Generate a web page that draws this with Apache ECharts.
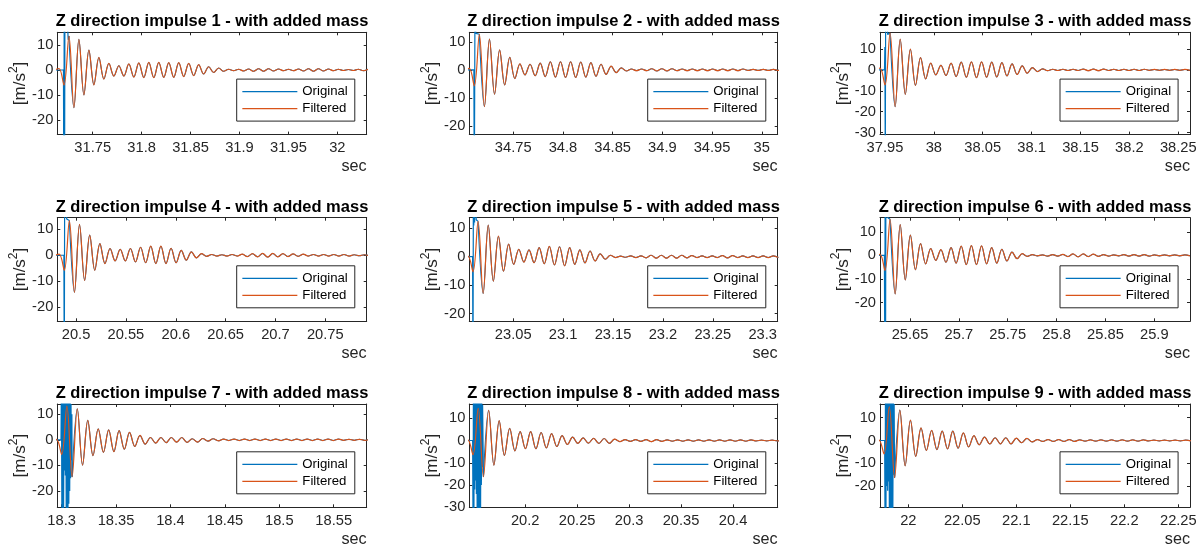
<!DOCTYPE html>
<html>
<head>
<meta charset="utf-8">
<script src="https://cdn.jsdelivr.net/npm/echarts@6/dist/echarts.min.js"></script>
<style>
  html, body { margin: 0; padding: 0; background: #fff; }
  #chart { width: 1203px; height: 548px; }
</style>
</head>
<body>
<div id="chart"></div>
<script>
// ---------------- data ----------------
const panelTitles = [
  'Z direction impulse 1 - with added mass',
  'Z direction impulse 2 - with added mass',
  'Z direction impulse 3 - with added mass',
  'Z direction impulse 4 - with added mass',
  'Z direction impulse 5 - with added mass',
  'Z direction impulse 6 - with added mass',
  'Z direction impulse 7 - with added mass',
  'Z direction impulse 8 - with added mass',
  'Z direction impulse 9 - with added mass'
];

// time of the first ringing trough of each impulse [s]
const ringStart = [31.7206, 34.7108, 37.9500, 20.4882, 23.0097, 25.6244, 18.3000, 20.1497, 21.9775];
// spacing between successive extrema of the filtered ringing [s]
const halfPeriod = [0.0051, 0.0051, 0.0052, 0.0051, 0.0051, 0.0052, 0.0048, 0.00505, 0.0049];

// filtered acceleration extrema [m/s^2]; first value sits two steps before ringStart
const filtered1 = [0, 0.6, -6, 13.5, -15, 12.2, -9.9, 7.9, -5.9, 5.0, -3.6, 2.6, -2.4, 1.7, -2.4, 2.4, -2.8, 2.8, -3.0, 3.0, -3.0, 3.0, -2.9, 2.9, -2.9, 2.9, -2.6, 2.6, -2.2, 2.1, -1.6, 1.3, -1.0, 0.8, -0.5, 0.3, -0.3, 0.3, -0.4, 0.4, -0.5, 0.5, -0.5, 0.5, -0.4, 0.4, -0.3, 0.3, -0.3, 0.4, -0.4, 0.5, -0.5, 0.5, -0.4, 0.4, -0.3, 0.3, -0.2, 0.2, -0.2, 0.3, -0.3, 0.3];
const filtered2 = [0, 0.5, -5.7, 12.7, -13.1, 11.0, -8.7, 7.1, -5.4, 4.5, -3.1, 2.1, -1.8, 2.0, -2.1, 2.4, -2.4, 2.9, -2.6, 2.9, -2.7, 2.9, -2.7, 2.8, -2.6, 2.6, -2.3, 2.0, -1.6, 1.3, -1.0, 0.7, -0.4, 0.3, -0.3, 0.3, -0.3, 0.4, -0.4, 0.4, -0.4, 0.4, -0.3, 0.3, -0.3, 0.3, -0.3, 0.3, -0.3, 0.3, -0.3, 0.3, -0.3, 0.3, -0.3, 0.3, -0.2, 0.2, -0.2, 0.2, -0.2, 0.2, -0.2, 0.2];
const filtered3 = [0, 0.8, -7.2, 17.6, -17.6, 14.7, -11.7, 9.9, -7.4, 5.9, -4.3, 3.2, -2.4, 2.2, -2.7, 3.2, -3.2, 3.7, -3.5, 3.8, -3.7, 3.8, -3.5, 3.7, -3.4, 3.5, -2.9, 2.9, -2.2, 1.9, -1.6, 1.1, -0.8, 0.5, -0.4, 0.3, -0.3, 0.3, -0.3, 0.3, -0.3, 0.4, -0.4, 0.4, -0.4, 0.4, -0.3, 0.3, -0.3, 0.3, -0.3, 0.3, -0.3, 0.3, -0.2, 0.2, -0.2, 0.2, -0.2, 0.2, -0.2, 0.2, -0.2];
const filtered4 = [0, 0.4, -5.8, 13.4, -14.3, 11.9, -9.7, 7.8, -5.8, 4.5, -3.2, 2.6, -2.2, 2.3, -2.2, 2.6, -2.6, 3.1, -2.9, 3.5, -3.2, 3.5, -3.2, 2.7, -2.9, 1.9, -1.9, 1.3, -1.0, 0.6, -0.4, 0.3, -0.3, 0.2, -0.3, 0.3, -0.3, 0.4, -0.5, 0.6, -0.6, 0.7, -0.7, 0.7, -0.6, 0.6, -0.5, 0.5, -0.4, 0.4, -0.3, 0.3, -0.3, 0.3, -0.3, 0.3, -0.3, 0.3, -0.3, 0.2, -0.2, 0.2, -0.2];
const filtered5 = [0, 0.2, -5.3, 12.4, -12.9, 11.1, -8.6, 7.2, -5.1, 4.4, -2.7, 2.6, -1.9, 2.4, -2.1, 3.2, -2.5, 3.6, -2.9, 3.5, -3.2, 3.2, -2.7, 2.4, -2.2, 2.0, -1.5, 1.0, -0.9, 0.5, -0.3, 0.2, -0.2, 0.3, -0.3, 0.3, -0.4, 0.5, -0.5, 0.5, -0.5, 0.5, -0.5, 0.5, -0.4, 0.4, -0.3, 0.3, -0.3, 0.3, -0.3, 0.4, -0.4, 0.4, -0.3, 0.3, -0.3, 0.3, -0.3, 0.3, -0.3, 0.3, -0.3];
const filtered6 = [0, 0.4, -6.4, 15.3, -16.4, 13.1, -10.4, 8.6, -6.1, 5.0, -3.6, 2.9, -2.1, 2.4, -2.9, 3.3, -3.3, 3.9, -3.9, 4.1, -3.9, 4.0, -3.6, 3.3, -3.3, 2.6, -2.4, 1.4, -1.4, 0.7, -0.4, 0.3, -0.2, 0.2, -0.3, 0.3, -0.3, 0.4, -0.5, 0.6, -0.6, 0.6, -0.5, 0.5, -0.4, 0.3, -0.3, 0.2, -0.2, 0.3, -0.3, 0.3, -0.3, 0.3, -0.3, 0.2, -0.2, 0.2, -0.2, 0.2, -0.2, 0.2, -0.2];
const filtered7 = [0, 0.2, -5.7, 13.2, -14.5, 12.1, -9.9, 7.6, -6.2, 4.3, -4.9, 3.9, -4.6, 3.6, -3.7, 2.9, -2.6, 1.7, -1.7, 0.9, -1.3, 0.9, -1.1, 0.9, -0.9, 0.9, -1.0, 0.4, -0.9, 0.5, -0.5, 0.4, -0.4, 0.3, -0.3, 0.3, -0.3, 0.3, -0.3, 0.3, -0.3, 0.3, -0.3, 0.3, -0.3, 0.3, -0.3, 0.3, -0.3, 0.3, -0.3, 0.3, -0.3, 0.3, -0.3, 0.3, -0.2, 0.2, -0.2, 0.2, -0.2, 0.2];
const filtered8 = [0, 0.3, -6.4, 14.5, -16.3, 13.6, -11.1, 8.9, -6.7, 5.5, -4.7, 4.0, -3.7, 4.0, -3.7, 3.6, -3.3, 3.1, -2.7, 2.2, -1.8, 1.5, -1.3, 1.2, -1.2, 1.0, -1.3, 0.9, -1.3, 0.6, -0.5, 0.4, -0.4, 0.4, -0.4, 0.4, -0.5, 0.4, -0.4, 0.3, -0.3, 0.3, -0.3, 0.3, -0.3, 0.3, -0.3, 0.3, -0.3, 0.3, -0.3, 0.3, -0.3, 0.3, -0.3, 0.3, -0.2, 0.2, -0.2, 0.2, -0.2, 0.2];
const filtered9 = [0, 0.3, -5.9, 14.8, -16.3, 13.3, -11.1, 8.9, -7.0, 5.5, -4.4, 4.4, -4.0, 4.1, -3.7, 4.1, -3.4, 3.3, -2.8, 2.1, -1.9, 1.5, -1.5, 1.2, -1.5, 1.2, -1.5, 1.0, -1.0, 0.9, -0.6, 0.4, -0.4, 0.4, -0.4, 0.4, -0.4, 0.4, -0.4, 0.3, -0.3, 0.3, -0.3, 0.3, -0.3, 0.3, -0.3, 0.3, -0.3, 0.3, -0.3, 0.3, -0.2, 0.2, -0.2, 0.2, -0.2, 0.2, -0.2, 0.2, -0.2];

// raw (unfiltered) samples around each hammer hit [m/s^2], sampled every burstStep seconds
const burstStep = 0.0004;
const burstStart = [31.7201, 34.7104, 37.9495, 20.4878, 23.0093, 25.6238, 18.2994, 20.1494, 21.9781];
const original1 = [0, -60, 40, -35, 50, 18, 45, 25, 38, 20, 30, 16, 12];
const original2 = [0, -45, -10, 35, 16, 13];
const original3 = [0, 11, -45, 30, 25, 40, 20, 30, 17];
const original4 = [0, -50, 30, 20, 40, 16, 25, 14];
const original5 = [0, -45, 30, 11, 25, 12, 40, 20, 35, 13];
const original6 = [0, -40, 30, -35, 45, 20, 35, 22, 30, 16];
const original7 = [0, 25, -30, 20, -28, 30, -27, 18, -12, 22, -14, 28, -30, 20, -29, 24, -30, 16, -25, 26, -20, 18, -15, 14, -8, 10];
const original8 = [0, -40, 30, -45, 35, -22, 30, -18, 25, -24, 28, -40, 32, -38, 30, -45, 26, -35, 30, -42, 22, -20, 18, -12, 16];
const original9 = [0, -40, 30, -38, 35, -20, 28, -22, 30, -18, 35, -40, 25, -42, 30, -35, 28, -45, 32, -30, 20, -15, 16];

// axis limits
const xMin = [31.7138, 34.7058, 37.9449, 20.4812, 23.0060, 25.6193, 18.2960, 20.1462, 21.9738];
const xMax = [32.0300, 35.0160, 38.2620, 20.7915, 23.3150, 25.9365, 18.5803, 20.4430, 22.2608];
const yMin = [-25.7, -23.1, -31.0, -25.5, -22.7, -28.0, -26.4, -30.0, -29.3];
const yMax = [15.0, 13.4, 18.0, 14.5, 13.7, 16.0, 14.0, 16.4, 16.0];

// tick values
const xTicks1 = [31.75, 31.8, 31.85, 31.9, 31.95, 32];
const xTicks2 = [34.75, 34.8, 34.85, 34.9, 34.95, 35];
const xTicks3 = [37.95, 38, 38.05, 38.1, 38.15, 38.2, 38.25];
const xTicks4 = [20.5, 20.55, 20.6, 20.65, 20.7, 20.75];
const xTicks5 = [23.05, 23.1, 23.15, 23.2, 23.25, 23.3];
const xTicks6 = [25.65, 25.7, 25.75, 25.8, 25.85, 25.9];
const xTicks7 = [18.3, 18.35, 18.4, 18.45, 18.5, 18.55];
const xTicks8 = [20.2, 20.25, 20.3, 20.35, 20.4];
const xTicks9 = [22, 22.05, 22.1, 22.15, 22.2, 22.25];
const yTicksShort = [-20, -10, 0, 10];
const yTicksLong = [-30, -20, -10, 0, 10];

const seriesNames = ['Original', 'Filtered'];
const xLabel = 'sec';
// y label with a raised exponent, written as rich text
const yLabel = '{u|[m/s}{e|2}{u|]}';

// ---------------- layout & style ----------------
const FONT = '"Liberation Sans", Arial, Helvetica, sans-serif';
const AXIS_COLOR = '#262626';
const BLUE = '#0072BD';
const ORANGE = '#D95319';
const colLeft = [57.3, 469.3, 880];
const colWidth = [309.4, 308.4, 310];
const rowTop = [32.3, 217.7, 404];
const rowHeight = [102.3, 103.6, 103.3];

const filteredSets = [filtered1, filtered2, filtered3, filtered4, filtered5, filtered6, filtered7, filtered8, filtered9];
const originalSets = [original1, original2, original3, original4, original5, original6, original7, original8, original9];
const xTickSets = [xTicks1, xTicks2, xTicks3, xTicks4, xTicks5, xTicks6, xTicks7, xTicks8, xTicks9];
const yTickSets = [yTicksShort, yTicksShort, yTicksLong, yTicksShort, yTicksShort, yTicksShort, yTicksShort, yTicksLong, yTicksShort];

const fmt = v => String(Math.round(v * 1000) / 1000);

const grids = [], xAxes = [], yAxes = [], series = [], titles = [], legends = [];

for (let k = 0; k < 9; k++) {
  const col = k % 3, row = Math.floor(k / 3);
  const left = colLeft[col], top = rowTop[row], w = colWidth[col], h = rowHeight[row];

  grids.push({ left: left, top: top, width: w, height: h, containLabel: false, outerBoundsMode: 'none' });

  const xt = xTickSets[k], yt = yTickSets[k];
  const lineStyle = { color: AXIS_COLOR, width: 1 };
  const tickStyle = { show: true, inside: true, length: 3, lineStyle: { color: AXIS_COLOR, width: 1 } };

  xAxes.push({
    type: 'value', gridIndex: k, position: 'bottom', min: xMin[k], max: xMax[k],
    axisLine: { show: true, onZero: false, lineStyle: lineStyle },
    axisTick: Object.assign({ customValues: xt }, tickStyle),
    axisLabel: { show: true, customValues: xt, formatter: fmt, margin: 6, color: AXIS_COLOR, fontSize: 14.7, fontFamily: FONT },
    splitLine: { show: false },
    name: xLabel, nameLocation: 'end', nameGap: 0, nameMoveOverlap: false,
    nameTextStyle: { align: 'right', verticalAlign: 'top', padding: [23, 0, 0, 0], lineHeight: 18, fontSize: 16.2, color: AXIS_COLOR, fontFamily: FONT }
  });
  xAxes.push({
    type: 'value', gridIndex: k, position: 'top', min: xMin[k], max: xMax[k],
    axisLine: { show: true, onZero: false, lineStyle: lineStyle },
    axisTick: Object.assign({ customValues: xt }, tickStyle),
    axisLabel: { show: false, customValues: xt },
    splitLine: { show: false }
  });
  yAxes.push({
    type: 'value', gridIndex: k, position: 'left', min: yMin[k], max: yMax[k],
    axisLine: { show: true, onZero: false, lineStyle: lineStyle },
    axisTick: Object.assign({ customValues: yt }, tickStyle),
    axisLabel: { show: true, customValues: yt, formatter: fmt, margin: 4, color: AXIS_COLOR, fontSize: 14.7, fontFamily: FONT },
    splitLine: { show: false },
    name: yLabel, nameLocation: 'middle', nameGap: 28, nameRotate: 90, nameMoveOverlap: false,
    nameTextStyle: {
      color: AXIS_COLOR, fontFamily: FONT,
      rich: {
        u: { fontSize: 17, lineHeight: 22, color: AXIS_COLOR, fontFamily: FONT, verticalAlign: 'bottom' },
        e: { fontSize: 12, lineHeight: 22, color: AXIS_COLOR, fontFamily: FONT, verticalAlign: 'top' }
      }
    }
  });
  yAxes.push({
    type: 'value', gridIndex: k, position: 'right', min: yMin[k], max: yMax[k],
    axisLine: { show: true, onZero: false, lineStyle: lineStyle },
    axisTick: Object.assign({ customValues: yt }, tickStyle),
    axisLabel: { show: false, customValues: yt },
    splitLine: { show: false }
  });

  // time stamps for the filtered extrema
  const t0 = ringStart[k] - 2 * halfPeriod[k];
  const filt = filteredSets[k].map((v, i) => [t0 + i * halfPeriod[k], v]);
  // raw burst, then the raw signal carries on with the filtered ringing
  const raw = originalSets[k].map((v, i) => [burstStart[k] + i * burstStep, v]);
  const rawEnd = raw[raw.length - 1][0];
  const after = filt.filter(p => p[0] > rawEnd);
  const rawHit = [filt[0]].concat(raw, [after[0]]);

  const common = { type: 'line', xAxisIndex: 2 * k, yAxisIndex: 2 * k, symbol: 'none', showSymbol: false, clip: true, animation: false, silent: true };
  series.push(Object.assign({}, common, { name: seriesNames[0], data: rawHit, smooth: false, z: 2, lineStyle: { color: BLUE, width: 1.2 }, itemStyle: { color: BLUE } }));
  series.push(Object.assign({}, common, { name: seriesNames[0], data: after, smooth: 0.36, z: 2, lineStyle: { color: BLUE, width: 1.1 }, itemStyle: { color: BLUE } }));
  series.push(Object.assign({}, common, { name: seriesNames[1], data: filt, smooth: 0.36, z: 3, lineStyle: { color: ORANGE, width: 1.2 }, itemStyle: { color: ORANGE } }));

  titles.push({
    text: panelTitles[k], left: left + w / 2, top: top - 20.7, textAlign: 'center', padding: 0,
    textStyle: { fontSize: 16.5, fontWeight: 'bold', color: '#000', fontFamily: FONT, lineHeight: 20 }
  });

  legends.push({
    data: seriesNames, orient: 'vertical', left: left + w - 130, top: top + h - 55.5,
    itemWidth: 55, itemHeight: 14, itemGap: 0, itemTextGap: 3, padding: [4, 7, 4, 5],
    borderColor: AXIS_COLOR, borderWidth: 1, borderRadius: 0, backgroundColor: '#fff',
    selectedMode: false,
    // legend keys are plain line samples
    itemStyle: { opacity: 0, borderWidth: 0 },
    lineStyle: { width: 1.3 },
    textStyle: { fontSize: 13.2, color: '#000', fontFamily: FONT, lineHeight: 17 }
  });
}

const chart = echarts.init(document.getElementById('chart'), null, { renderer: 'canvas' });
chart.setOption({
  backgroundColor: '#fff',
  animation: false,
  title: titles,
  legend: legends,
  grid: grids,
  xAxis: xAxes,
  yAxis: yAxes,
  series: series
});
</script>
</body>
</html>
